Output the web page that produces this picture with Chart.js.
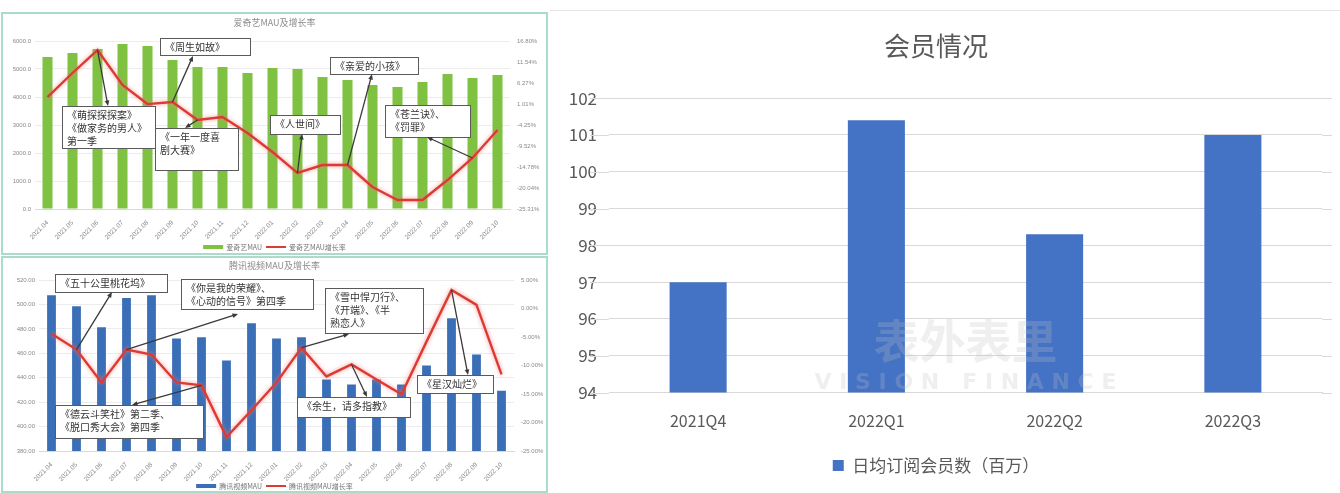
<!DOCTYPE html>
<html>
<head>
<meta charset="utf-8">
<script src="https://cdn.jsdelivr.net/npm/chart.js@4.4.0/dist/chart.umd.min.js"></script>
<style>
  body { margin: 0; background: #fff; width: 1340px; height: 493px; overflow: hidden; position: relative; }
  .panel { position: absolute; box-sizing: border-box; border: 2px solid #a9dcc9; background: #fff; }
  #p1 { left: 1px; top: 12px; width: 547px; height: 243px; }
  #p2 { left: 1px; top: 256px; width: 547px; height: 237px; }
  #p3 { left: 550px; top: 10px; width: 790px; height: 483px; border: none; border-top: 1px solid #e4e4e4; }
  canvas { display: block; }
</style>
</head>
<body>
<div class="panel" id="p1"><canvas id="c1" width="543" height="239"></canvas></div>
<div class="panel" id="p2"><canvas id="c2" width="543" height="233"></canvas></div>
<div class="panel" id="p3"><canvas id="c3" width="790" height="482"></canvas></div>
<script>
// ---- data ----
const months = ['2021.04', '2021.05', '2021.06', '2021.07', '2021.08', '2021.09', '2021.10', '2021.11', '2021.12',
  '2022.01', '2022.02', '2022.03', '2022.04', '2022.05', '2022.06', '2022.07', '2022.08', '2022.09', '2022.10'];
const iqiyiMau = [5429, 5571, 5714, 5893, 5821, 5321, 5071, 5071, 4857, 5036, 5000, 4714, 4607, 4429, 4357, 4536, 4821, 4679, 4786];
const iqiyiGrowth = [2.76, 8.78, 14.54, 5.77, 0.99, 1.49, -3.01, -2.25, -6.26, -11.03, -16.29, -14.29, -14.29, -19.80, -23.06, -23.06, -18.05, -12.53, -5.51];
const tencentMau = [507.6, 498.6, 481.3, 505.2, 507.6, 472.2, 473.1, 454.1, 484.6, 472.2, 473.1, 438.5, 434.4, 438.5, 434.4, 450.0, 488.7, 459.1, 429.4];
const tencentGrowth = [-4.42, -7.21, -12.97, -7.21, -8.08, -12.97, -13.49, -22.56, -17.85, -12.97, -6.86, -11.92, -9.82, -12.44, -15.06, -5.81, 3.26, 0.64, -11.57];
const iqiyiMauTicks = [0, 1000, 2000, 3000, 4000, 5000, 6000];
const iqiyiGrowthTicks = [-25.31, -20.04, -14.78, -9.52, -4.25, 1.01, 6.27, 11.54, 16.80];
const tencentMauTicks = [380, 400, 420, 440, 460, 480, 500, 520];
const tencentGrowthTicks = [-25, -20, -15, -10, -5, 0, 5];

const quarters = ['2021Q4', '2022Q1', '2022Q2', '2022Q3'];
const members = [97.0, 101.4, 98.3, 101.0];
const memberTicks = [94, 95, 96, 97, 98, 99, 100, 101, 102];

const CJK = '"Noto Sans CJK SC", "Noto Sans", sans-serif';

// callouts (box in canvas px, arrow from a point of the growth line)
const iqiyiNotes = [
  { lines: ['《周生如故》'], box: [157, 24, 90, 17], idx: 5, end: [190, 42] },
  { lines: ['《萌探探探案》', '《做家务的男人》', '第一季'], box: [59, 92, 93, 42], idx: 2, end: [105, 92] },
  { lines: ['《一年一度喜', '剧大赛》'], box: [152, 114, 83, 42], idx: 6, end: [182, 114] },
  { lines: ['《人世间》'], box: [267, 101, 70, 19], idx: 10, end: [299, 120] },
  { lines: ['《亲爱的小孩》'], box: [327, 43, 88, 17], idx: 12, end: [369, 60] },
  { lines: ['《苍兰诀》、', '《罚罪》'], box: [382, 91, 85, 32], idx: 17, end: [424, 123] }
];
const tencentNotes = [
  { lines: ['《五十公里桃花坞》'], box: [52, 16, 112, 18], idx: 1, end: [109, 34] },
  { lines: ['《你是我的荣耀》、', '《心动的信号》第四季'], box: [178, 21, 132, 30], idx: 3, end: [235, 56] },
  { lines: ['《雪中悍刀行》、', '《开端》、《半', '熟恋人》'], box: [322, 30, 98, 45], idx: 10, end: [346, 76] },
  { lines: ['《余生，请多指教》'], box: [294, 139, 113, 20], idx: 12, end: [364, 139] },
  { lines: ['《星汉灿烂》'], box: [414, 117, 76, 18], idx: 16, end: [465, 117] },
  { lines: ['《德云斗笑社》第二季、', '《脱口秀大会》第四季'], box: [52, 147, 148, 33], idx: 6, end: [129, 147] }
];

function drawArrow(ctx, x1, y1, x2, y2) {
  const a = Math.atan2(y2 - y1, x2 - x1), h = 6;
  ctx.strokeStyle = '#3a3a3a';
  ctx.fillStyle = '#3a3a3a';
  ctx.lineWidth = 1.3;
  ctx.beginPath();
  ctx.moveTo(x1, y1);
  ctx.lineTo(x2 - Math.cos(a) * h * 0.8, y2 - Math.sin(a) * h * 0.8);
  ctx.stroke();
  ctx.beginPath();
  ctx.moveTo(x2, y2);
  ctx.lineTo(x2 - h * Math.cos(a - 0.4), y2 - h * Math.sin(a - 0.4));
  ctx.lineTo(x2 - h * Math.cos(a + 0.4), y2 - h * Math.sin(a + 0.4));
  ctx.closePath();
  ctx.fill();
}

const notesPlugin = {
  id: 'notes',
  afterDatasetsDraw(chart, args, opts) {
    const ctx = chart.ctx;
    const meta = chart.getDatasetMeta(1);
    ctx.save();
    opts.items.forEach(n => {
      const [bx, by, bw, bh] = n.box;
      ctx.fillStyle = '#fff';
      ctx.fillRect(bx, by, bw, bh);
      ctx.strokeStyle = '#5a5a5a';
      ctx.lineWidth = 1;
      ctx.strokeRect(bx + 0.5, by + 0.5, bw, bh);
      ctx.fillStyle = '#333';
      ctx.font = '10px ' + CJK;
      ctx.textBaseline = 'middle';
      ctx.textAlign = 'left';
      n.lines.forEach((t, i) => ctx.fillText(t, bx + 5, by + 9 + i * 13));
    });
    opts.items.forEach(n => {
      const pt = meta.data[n.idx];
      drawArrow(ctx, pt.x, pt.y, n.end[0], n.end[1]);
    });
    ctx.restore();
  }
};

// title + legend drawn inside the padding of the small charts
const framePlugin = {
  id: 'frame',
  afterDraw(chart, args, o) {
    const ctx = chart.ctx;
    ctx.save();
    ctx.font = '9px ' + CJK;
    ctx.fillStyle = '#8c8c8c';
    ctx.textAlign = 'center';
    ctx.textBaseline = 'middle';
    ctx.fillText(o.title, chart.width / 2, o.titleY);
    ctx.font = '7px ' + CJK;
    const items = chart.data.datasets.map(d => ({
      label: d.label,
      color: d.type === 'line' ? d.borderColor : d.backgroundColor,
      w: d.type === 'line' ? 2 : 4
    }));
    const sw = 20, gap = 3, sep = 4;
    let total = 0;
    items.forEach(it => { total += sw + gap + ctx.measureText(it.label).width; });
    total += sep * (items.length - 1);
    let x = chart.width / 2 - total / 2;
    ctx.textAlign = 'left';
    items.forEach(it => {
      ctx.strokeStyle = it.color;
      ctx.lineWidth = it.w;
      ctx.beginPath();
      ctx.moveTo(x, o.legendY);
      ctx.lineTo(x + sw, o.legendY);
      ctx.stroke();
      x += sw + gap;
      ctx.fillStyle = '#777';
      ctx.fillText(it.label, x, o.legendY);
      x += ctx.measureText(it.label).width + sep;
    });
    ctx.restore();
  }
};

const glowPlugin = {
  id: 'glow',
  beforeDatasetDraw(chart, args) {
    if (args.meta.type === 'line') {
      chart.ctx.save();
      chart.ctx.shadowColor = 'rgba(240,120,120,0.8)';
      chart.ctx.shadowBlur = 4;
    }
  },
  afterDatasetDraw(chart, args) {
    if (args.meta.type === 'line') chart.ctx.restore();
  }
};

function comboChart(id, cfg) {
  return new Chart(document.getElementById(id), {
    type: 'bar',
    data: {
      labels: months,
      datasets: [
        { type: 'bar', label: cfg.barLabel, data: cfg.bars, backgroundColor: cfg.barColor,
          yAxisID: 'y', order: 1, barPercentage: 0.8, categoryPercentage: cfg.catPct },
        { type: 'line', label: cfg.lineLabel, data: cfg.line, borderColor: '#dc3b33', borderWidth: 2.4,
          pointRadius: 0, tension: 0, yAxisID: 'y1', order: 0 }
      ]
    },
    options: {
      responsive: false,
      animation: false,
      layout: { padding: cfg.padding },
      plugins: {
        legend: { display: false },
        tooltip: { enabled: false },
        notes: { items: cfg.notes },
        frame: { title: cfg.title, titleY: cfg.titleY, legendY: cfg.legendY }
      },
      scales: {
        x: {
          grid: { display: false },
          border: { color: '#d9d9d9' },
          ticks: { autoSkip: false, minRotation: 45, maxRotation: 45, color: '#8a8a8a', font: { size: 6.5 }, padding: 2 },
          afterFit: s => { s.height = cfg.xHeight; }
        },
        y: {
          position: 'left',
          min: cfg.leftTicks[0],
          max: cfg.leftTicks[cfg.leftTicks.length - 1],
          afterBuildTicks: s => { s.ticks = cfg.leftTicks.map(v => ({ value: v })); },
          afterFit: s => { s.width = cfg.leftWidth; },
          grid: { color: '#ececec', drawTicks: false },
          border: { display: false },
          ticks: { color: '#8a8a8a', font: { size: 6 }, padding: 4, callback: cfg.leftFmt }
        },
        y1: {
          position: 'right',
          min: cfg.rightTicks[0],
          max: cfg.rightTicks[cfg.rightTicks.length - 1],
          afterBuildTicks: s => { s.ticks = cfg.rightTicks.map(v => ({ value: v })); },
          afterFit: s => { s.width = cfg.rightWidth; },
          grid: { display: false, drawTicks: false },
          border: { display: false },
          ticks: { color: '#8a8a8a', font: { size: 6 }, padding: 7, callback: v => v.toFixed(2) + '%' }
        }
      }
    },
    plugins: [glowPlugin, notesPlugin, framePlugin]
  });
}

comboChart('c1', {
  title: '爱奇艺MAU及增长率', titleY: 9, legendY: 233,
  barLabel: '爱奇艺MAU', lineLabel: '爱奇艺MAU增长率',
  bars: iqiyiMau, line: iqiyiGrowth, barColor: '#7fc241', catPct: 0.5,
  leftTicks: iqiyiMauTicks, rightTicks: iqiyiGrowthTicks, leftFmt: v => v.toFixed(1),
  padding: { left: 0, right: 0, top: 27, bottom: 13 }, xHeight: 31, leftWidth: 32, rightWidth: 36,
  notes: iqiyiNotes
});

comboChart('c2', {
  title: '腾讯视频MAU及增长率', titleY: 8, legendY: 228,
  barLabel: '腾讯视频MAU', lineLabel: '腾讯视频MAU增长率',
  bars: tencentMau, line: tencentGrowth, barColor: '#3a6fb7', catPct: 0.44,
  leftTicks: tencentMauTicks, rightTicks: tencentGrowthTicks, leftFmt: v => v.toFixed(2),
  padding: { left: 0, right: 0, top: 22, bottom: 10 }, xHeight: 30, leftWidth: 36, rightWidth: 32,
  notes: tencentNotes
});

// faint watermark on the member chart, and grid lines running a bit past the plot's left edge
const markPlugin = {
  id: 'mark',
  beforeDatasetsDraw(chart) {
    const ctx = chart.ctx, y = chart.scales.y;
    ctx.save();
    ctx.strokeStyle = '#d9d9d9';
    ctx.lineWidth = 1;
    y.ticks.forEach(t => {
      const py = Math.round(y.getPixelForValue(t.value)) + 0.5;
      ctx.beginPath();
      ctx.moveTo(40, py);
      ctx.lineTo(chart.chartArea.left, py);
      ctx.moveTo(chart.chartArea.right, py);
      ctx.lineTo(chart.chartArea.right + 10, py);
      ctx.stroke();
    });
    ctx.restore();
  },
  afterDatasetsDraw(chart) {
    const ctx = chart.ctx;
    const cx = (chart.chartArea.left + chart.chartArea.right) / 2;
    ctx.save();
    ctx.textAlign = 'center';
    ctx.textBaseline = 'middle';
    ctx.fillStyle = 'rgba(190,190,190,0.25)';
    ctx.font = 'bold 46px ' + CJK;
    ctx.fillText('表外表里', cx, 330);
    ctx.font = 'bold 22px "DejaVu Sans", sans-serif';
    ctx.fillText('V I S I O N   F I N A N C E', cx, 372);
    ctx.restore();
  }
};

new Chart(document.getElementById('c3'), {
  type: 'bar',
  data: {
    labels: quarters,
    datasets: [{ label: '日均订阅会员数（百万）', data: members, backgroundColor: '#4472c4',
      barPercentage: 0.4, categoryPercentage: 0.8 }]
  },
  options: {
    responsive: false,
    animation: false,
    layout: { padding: { left: 0, right: 18, top: 0, bottom: 9 } },
    plugins: {
      title: { display: true, text: '会员情况', color: '#595959', font: { size: 26, family: CJK, weight: 'normal' },
        padding: { top: 20, bottom: 36 } },
      legend: { position: 'bottom', labels: { boxWidth: 11, boxHeight: 11, color: '#595959', padding: 18,
        font: { size: 17, family: CJK } } },
      tooltip: { enabled: false }
    },
    scales: {
      x: {
        grid: { display: false, drawTicks: false },
        border: { color: '#d9d9d9' },
        ticks: { color: '#595959', font: { size: 16, family: CJK }, padding: 19 },
        afterFit: s => { s.height = 46.5; }
      },
      y: {
        min: memberTicks[0],
        max: memberTicks[memberTicks.length - 1],
        afterBuildTicks: s => { s.ticks = memberTicks.map(v => ({ value: v })); },
        afterFit: s => { s.width = 59; },
        grid: { color: '#d9d9d9', drawTicks: false },
        border: { display: false },
        ticks: { color: '#595959', font: { size: 17, family: CJK }, padding: 12 }
      }
    }
  },
  plugins: [markPlugin]
});
</script>
</body>
</html>
